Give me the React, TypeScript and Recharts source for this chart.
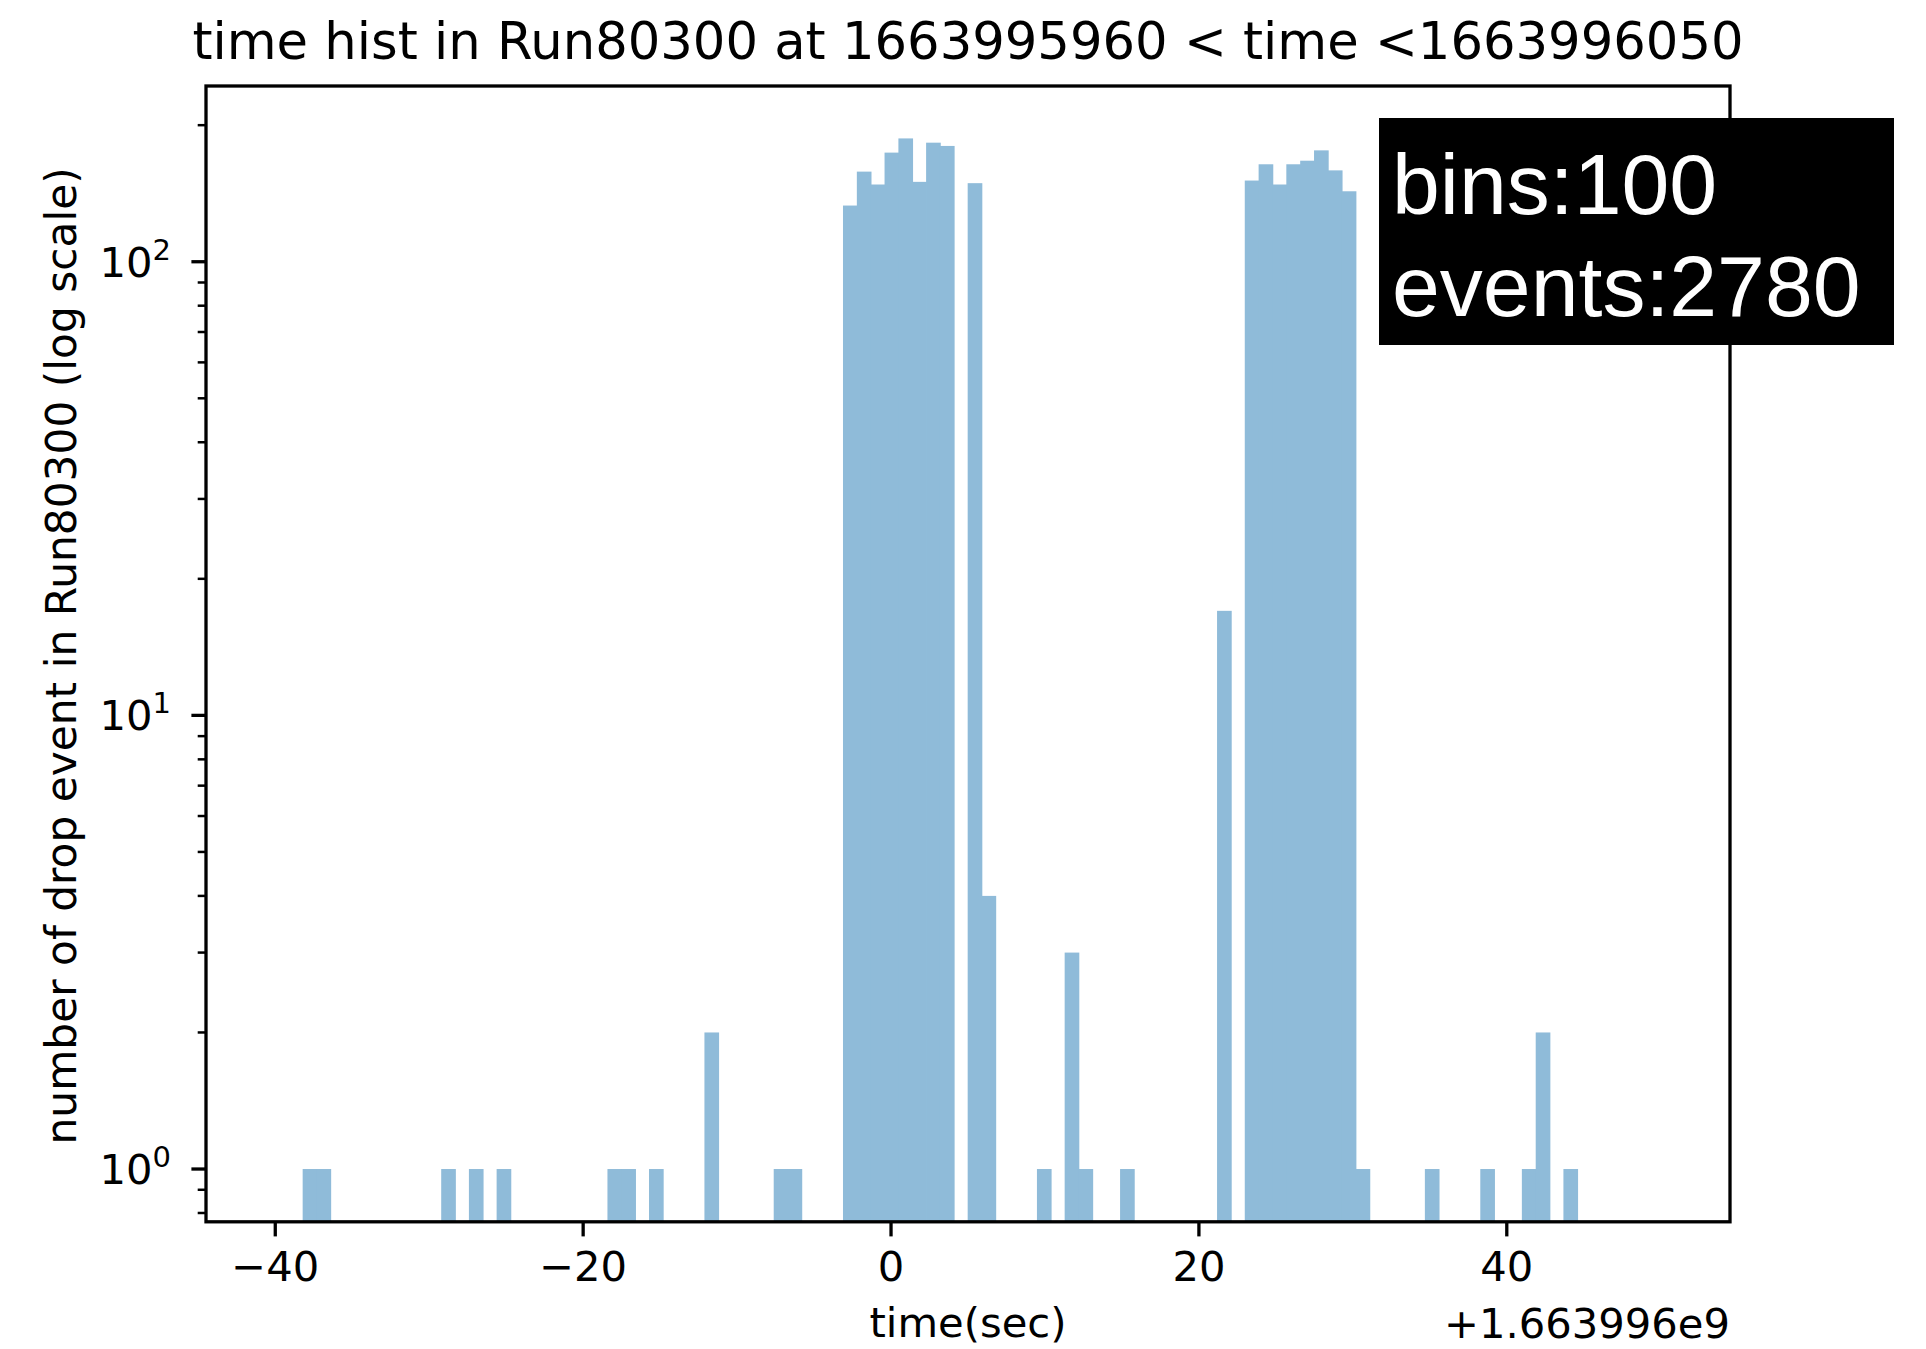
import { BarChart, Bar, XAxis, YAxis } from 'recharts';

// histogram counts per bin (100 bins over -40 .. 50 s, relative to 1.663996e9)
const binCounts = [
  0, 0, 1, 1, 0, 0, 0, 0, 0, 0,
  0, 0, 1, 0, 1, 0, 1, 0, 0, 0,
  0, 0, 0, 0, 1, 1, 0, 1, 0, 0,
  0, 2, 0, 0, 0, 0, 1, 1, 0, 0,
  0, 133, 158, 148, 174, 187, 150, 183, 180, 0,
  149, 4, 0, 0, 0, 1, 0, 3, 1, 0,
  0, 1, 0, 0, 0, 0, 0, 0, 17, 0,
  151, 164, 148, 164, 167, 176, 159, 143, 1, 0,
  0, 0, 0, 1, 0, 0, 0, 1, 0, 0,
  1, 2, 0, 1, 0, 0, 0, 0, 0, 0,
];

// hist range used for the bins
const histStart = -40;
const histEnd = 50;

const xTicks = [-40, -20, 0, 20, 40];
const yMajorTicks = [1, 10, 100];
const yMinorTicks = [0.8, 0.9, 2, 3, 4, 5, 6, 7, 8, 9, 20, 30, 40, 50, 60, 70, 80, 90, 200];

const W = 1926;
const H = 1349;
const PLOT_L = 206;
const PLOT_R = 1730;
const PLOT_T = 86;
const PLOT_B = 1221.8;
const FONT = '"DejaVu Sans", sans-serif';
// tab:blue at alpha 0.5 over white
const BAR_COLOR = '#8fbbd9';

// x range of the axes: hist range plus 5% margins
const X_MIN = histStart - 0.05 * (histEnd - histStart);
const X_MAX = histEnd + 0.05 * (histEnd - histStart);
const binW = (histEnd - histStart) / binCounts.length;
const binPx = (binW * (PLOT_R - PLOT_L)) / (X_MAX - X_MIN);

const data = binCounts.map((c, i) => ({
  x: histStart + binW * (i + 0.5),
  count: c > 0 ? c : null,
}));

const fmtX = (v: number) => (v < 0 ? '\u2212' + Math.abs(v) : String(v));

const XTick = ({ x, y, payload }: any) => (
  <g>
    <line x1={x} x2={x} y1={y} y2={y + 14.6} stroke="#000" strokeWidth={3.3} />
    <text x={x} y={y + 59.5} textAnchor="middle" fontSize={41.7} fontFamily={FONT} fill="#000">
      {fmtX(payload.value)}
    </text>
  </g>
);

const YTick = ({ x, y, payload }: any) => {
  const v = payload.value;
  const major = yMajorTicks.includes(v);
  return (
    <g>
      <line
        x1={x}
        x2={x - (major ? 14.6 : 8.3)}
        y1={y}
        y2={y}
        stroke="#000"
        strokeWidth={major ? 3.3 : 2.5}
      />
      {major && (
        <text x={x - 35} y={y + 15} textAnchor="end" fontSize={41.7} fontFamily={FONT} fill="#000">
          <tspan>10</tspan>
          <tspan dy={-17} fontSize={29}>
            {Math.round(Math.log10(v))}
          </tspan>
        </text>
      )}
    </g>
  );
};

// full-width histogram bin, slightly widened so neighbouring bins join
const BinShape = ({ x, y, width, height }: any) => {
  if (!height || height <= 0) return null;
  const cx = x + width / 2;
  const w = binPx + 0.8;
  return <rect x={cx - w / 2} y={y} width={w} height={height} fill={BAR_COLOR} />;
};

export default function App() {
  return (
    <div style={{ position: 'absolute', left: 0, top: 0, width: W, height: H, background: '#fff' }}>
      <BarChart
        width={W}
        height={H}
        data={data}
        margin={{ top: PLOT_T, left: 56, right: W - PLOT_R, bottom: H - PLOT_B - 60 }}
        barGap={0}
        barCategoryGap={0}
      >
        <XAxis
          dataKey="x"
          type="number"
          domain={[X_MIN, X_MAX]}
          allowDataOverflow
          ticks={xTicks}
          interval={0}
          height={60}
          axisLine={false}
          tickLine={false}
          tickSize={0}
          tickMargin={0}
          tick={<XTick />}
        />
        <YAxis
          type="number"
          scale="log"
          domain={[0.765, 244]}
          allowDataOverflow
          ticks={[...yMajorTicks, ...yMinorTicks]}
          interval={0}
          width={150}
          axisLine={false}
          tickLine={false}
          tickSize={0}
          tickMargin={0}
          tick={<YTick />}
        />
        <Bar
          dataKey="count"
          fill={BAR_COLOR}
          shape={<BinShape />}
          isAnimationActive={false}
        />
      </BarChart>

      <svg
        width={W}
        height={H}
        style={{ position: 'absolute', left: 0, top: 0, pointerEvents: 'none' }}
      >
        <rect
          x={PLOT_L}
          y={PLOT_T}
          width={PLOT_R - PLOT_L}
          height={PLOT_B - PLOT_T}
          fill="none"
          stroke="#000"
          strokeWidth={3.3}
        />
        <text x={(PLOT_L + PLOT_R) / 2} y={59} textAnchor="middle" fontSize={51.2} fontFamily={FONT} fill="#000">
          time hist in Run80300 at 1663995960 &lt; time &lt;1663996050
        </text>
        <text x={(PLOT_L + PLOT_R) / 2} y={1337} textAnchor="middle" fontSize={41.7} fontFamily={FONT} fill="#000">
          time(sec)
        </text>
        <text x={PLOT_R} y={1338} textAnchor="end" fontSize={41.7} fontFamily={FONT} fill="#000">
          +1.663996e9
        </text>
        <text
          x={0}
          y={0}
          transform={`translate(76, ${(PLOT_T + PLOT_B) / 2 + 2}) rotate(-90)`}
          textAnchor="middle"
          fontSize={42.3}
          fontFamily={FONT}
          fill="#000"
        >
          number of drop event in Run80300 (log scale)
        </text>

        <rect x={1379} y={118} width={515} height={227} fill="#000" />
        <text x={1392} y={214} fontSize={86} fontFamily='"Liberation Sans", Arial, sans-serif' fill="#fff">
          bins:100
        </text>
        <text x={1392} y={316} fontSize={86} fontFamily='"Liberation Sans", Arial, sans-serif' fill="#fff">
          events:2780
        </text>
      </svg>
    </div>
  );
}
